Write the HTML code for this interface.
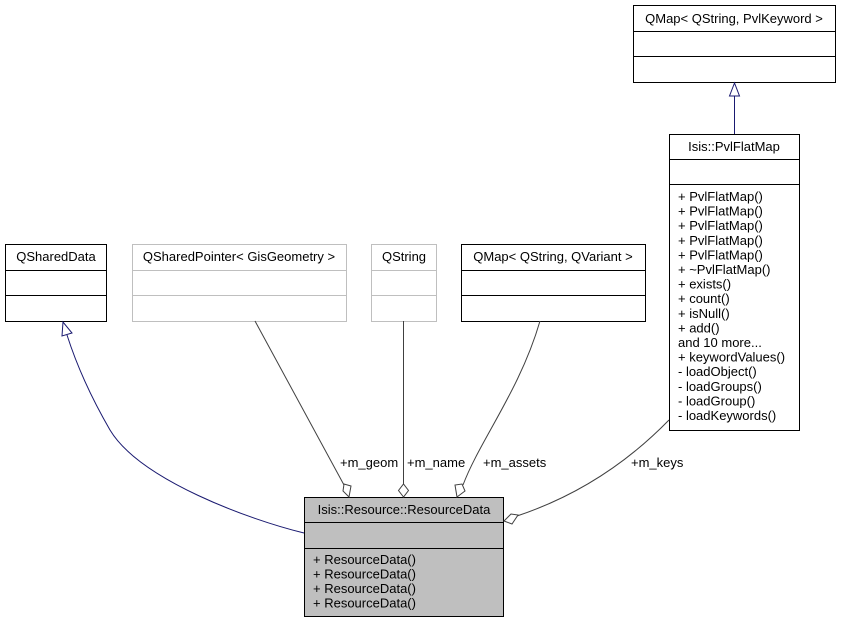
<!DOCTYPE html>
<html><head><meta charset="utf-8"><style>
html,body{margin:0;padding:0;background:#fff}
svg text{font-family:"Liberation Sans",Helvetica,sans-serif;font-size:13px}
</style></head><body>
<svg width="841" height="624" viewBox="0 0 841 624" xmlns="http://www.w3.org/2000/svg">
<rect width="841" height="624" fill="#fff"/>
<rect x="633.5" y="5.5" width="202" height="77" fill="#fff" stroke="#000"/>
<line x1="633.5" y1="31.5" x2="835.5" y2="31.5" stroke="#000"/>
<line x1="633.5" y1="56.5" x2="835.5" y2="56.5" stroke="#000"/>
<text x="734" y="23" text-anchor="middle">QMap&lt; QString, PvlKeyword &gt;</text>
<rect x="669.5" y="134.5" width="130" height="296" fill="#fff" stroke="#000"/>
<line x1="669.5" y1="159.5" x2="799.5" y2="159.5" stroke="#000"/>
<line x1="669.5" y1="184.5" x2="799.5" y2="184.5" stroke="#000"/>
<text x="734" y="151" text-anchor="middle">Isis::PvlFlatMap</text>
<g>
<text x="678" y="201">+ PvlFlatMap()</text>
<text x="678" y="215.6">+ PvlFlatMap()</text>
<text x="678" y="230.2">+ PvlFlatMap()</text>
<text x="678" y="244.8">+ PvlFlatMap()</text>
<text x="678" y="259.4">+ PvlFlatMap()</text>
<text x="678" y="274">+ ~PvlFlatMap()</text>
<text x="678" y="288.6">+ exists()</text>
<text x="678" y="303.2">+ count()</text>
<text x="678" y="317.8">+ isNull()</text>
<text x="678" y="332.4">+ add()</text>
<text x="678" y="347">and 10 more...</text>
<text x="678" y="361.6">+ keywordValues()</text>
<text x="678" y="376.2">- loadObject()</text>
<text x="678" y="390.8">- loadGroups()</text>
<text x="678" y="405.4">- loadGroup()</text>
<text x="678" y="420">- loadKeywords()</text>
</g>
<line x1="734.5" y1="134" x2="734.5" y2="96" stroke="#191970"/>
<polygon points="734.5,83 729.5,96 739.5,96" fill="#fff" stroke="#191970"/>
<rect x="5.5" y="244.5" width="101" height="77" fill="#fff" stroke="#000"/>
<line x1="5.5" y1="270.5" x2="106.5" y2="270.5" stroke="#000"/>
<line x1="5.5" y1="295.5" x2="106.5" y2="295.5" stroke="#000"/>
<text x="56" y="261" text-anchor="middle">QSharedData</text>
<rect x="132.5" y="244.5" width="214" height="77" fill="#fff" stroke="#bfbfbf"/>
<line x1="132.5" y1="270.5" x2="346.5" y2="270.5" stroke="#bfbfbf"/>
<line x1="132.5" y1="295.5" x2="346.5" y2="295.5" stroke="#bfbfbf"/>
<text x="239" y="261" text-anchor="middle">QSharedPointer&lt; GisGeometry &gt;</text>
<rect x="371.5" y="244.5" width="65" height="77" fill="#fff" stroke="#bfbfbf"/>
<line x1="371.5" y1="270.5" x2="436.5" y2="270.5" stroke="#bfbfbf"/>
<line x1="371.5" y1="295.5" x2="436.5" y2="295.5" stroke="#bfbfbf"/>
<text x="404" y="261" text-anchor="middle">QString</text>
<rect x="461.5" y="244.5" width="184" height="77" fill="#fff" stroke="#000"/>
<line x1="461.5" y1="270.5" x2="645.5" y2="270.5" stroke="#000"/>
<line x1="461.5" y1="295.5" x2="645.5" y2="295.5" stroke="#000"/>
<text x="553" y="261" text-anchor="middle">QMap&lt; QString, QVariant &gt;</text>
<rect x="304.5" y="497.5" width="199" height="119" fill="#bfbfbf" stroke="#000"/>
<line x1="304.5" y1="522.5" x2="503.5" y2="522.5" stroke="#000"/>
<line x1="304.5" y1="548.5" x2="503.5" y2="548.5" stroke="#000"/>
<text x="404" y="514" text-anchor="middle">Isis::Resource::ResourceData</text>
<text x="313" y="564">+ ResourceData()</text>
<text x="313" y="578.5">+ ResourceData()</text>
<text x="313" y="593">+ ResourceData()</text>
<text x="313" y="607.5">+ ResourceData()</text>
<path d="M304,533 C250,520 140,480 110,430 C88,392 75,360 67,335" fill="none" stroke="#191970"/>
<polygon points="63,322 62,336 72,333" fill="#fff" stroke="#191970"/>
<path d="M255,321 L344,485" fill="none" stroke="#404040"/>
<polygon points="349,497 343,491 344,484 351,486" fill="#fff" stroke="#404040"/>
<line x1="403.5" y1="321" x2="403.5" y2="484" stroke="#404040"/>
<polygon points="403.5,497 398.5,490.5 403.5,484 408.5,490.5" fill="#fff" stroke="#404040"/>
<path d="M540,321 C520,390 480,440 463,485" fill="none" stroke="#404040"/>
<polygon points="457,497 455,485 462,484 465,491" fill="#fff" stroke="#404040"/>
<path d="M669,420 C630,460 580,495 517,516" fill="none" stroke="#404040"/>
<polygon points="504,521 511,514 518,515 512,524" fill="#fff" stroke="#404040"/>
<text x="340" y="467">+m_geom</text>
<text x="407" y="467">+m_name</text>
<text x="483" y="467">+m_assets</text>
<text x="631" y="467">+m_keys</text>
</svg>
</body></html>
